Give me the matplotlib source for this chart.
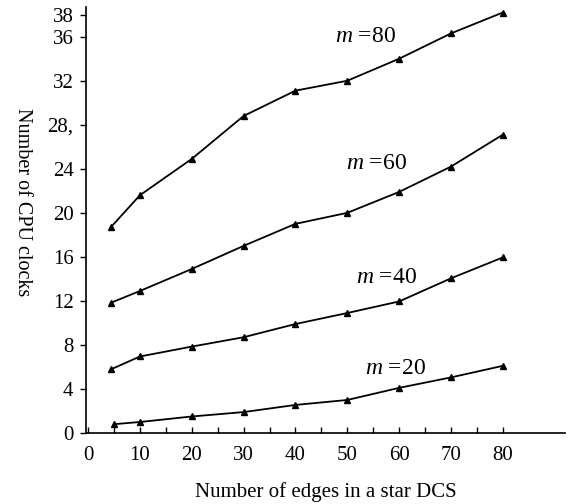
import matplotlib
matplotlib.use("Agg")
import matplotlib.pyplot as plt

plt.rcParams['font.family'] = ['Liberation Serif', 'DejaVu Serif']
plt.rcParams['mathtext.fontset'] = 'custom'
plt.rcParams['mathtext.it'] = 'Liberation Serif:italic'
plt.rcParams['mathtext.rm'] = 'Liberation Serif'

# Data
edges = [4.5, 10, 20, 30, 40, 50, 60, 70, 80]
edges_m20 = [5, 10, 20, 30, 40, 50, 60, 70, 80]
clocks_m20 = [0.8, 1.0, 1.5, 1.9, 2.55, 3.0, 4.1, 5.05, 6.1]
clocks_m40 = [5.8, 6.95, 7.85, 8.7, 9.9, 10.9, 11.95, 14.05, 15.95]
clocks_m60 = [11.85, 12.9, 14.9, 17.0, 19.0, 20.0, 21.9, 24.2, 27.1]
clocks_m80 = [18.75, 21.6, 24.9, 28.8, 31.1, 32.0, 34.0, 36.3, 38.2]

series = [
    (edges_m20, clocks_m20, "20"),
    (edges, clocks_m40, "40"),
    (edges, clocks_m60, "60"),
    (edges, clocks_m80, "80"),
]
label_pos = {"20": (59.3, 5.9), "40": (57.5, 14.1), "60": (55.6, 24.5), "80": (53.5, 36.0)}

xticks = [0, 10, 20, 30, 40, 50, 60, 70, 80]
xminor = [5, 15, 25, 35, 45, 55, 65, 75]
yticks = [0, 4, 8, 12, 16, 20, 24, 28, 32, 36, 38]
ytick_labels = ["0", "4", "8", "12", "16", "20", "24", "28,", "32", "36", "38"]

fig = plt.figure(figsize=(5.72, 5.04), dpi=100)
ax = fig.add_axes([86/572, 71/504, 479/572, 426/504])

for xs, ys, m in series:
    ax.plot(xs, ys, color='black', lw=1.3, marker='^', ms=5,
            mfc='black', mec='black')
    lx, ly = label_pos[m]
    ax.text(lx, ly, r"$m$ =" + m, fontsize=17, ha='center', va='center')

ax.set_xlim(-0.4, 92)
ax.set_ylim(0, 38.7)
ax.spines['top'].set_visible(False)
ax.spines['right'].set_visible(False)
ax.spines['left'].set_linewidth(1.2)
ax.spines['bottom'].set_linewidth(1.2)

ax.set_xticks(xticks)
ax.set_xticks(xminor, minor=True)
ax.set_yticks(yticks)
ax.set_yticklabels(ytick_labels)
ax.tick_params(axis='x', which='both', direction='in', length=4, width=1, pad=9, labelsize=15)
ax.tick_params(axis='y', direction='out', length=4, width=1, pad=5, labelsize=15)

fig.text(326/572, 1 - 492/504, "Number of edges in a star DCS", fontsize=15,
         ha='center', va='center')
fig.text(22/572, 1 - 202/504, "Number of CPU clocks", fontsize=14.5,
         rotation=-90, ha='center', va='center')

fig.savefig("out.png", dpi=100)
